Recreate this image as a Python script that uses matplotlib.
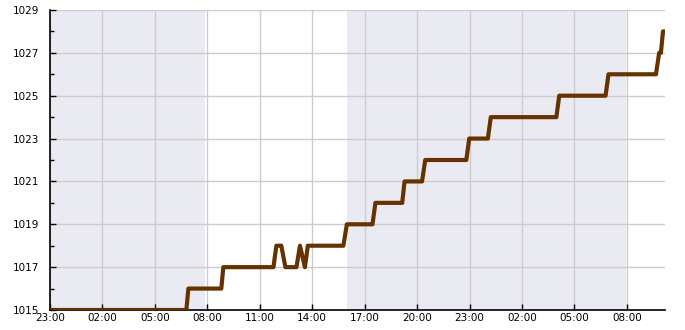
import pandas as pd
import matplotlib
matplotlib.use('Agg')
import matplotlib.pyplot as plt
import matplotlib.dates as mdates
from matplotlib.ticker import MultipleLocator

# pressure readings (hPa)
times = ['2024-01-14 23:00', '2024-01-15 06:48', '2024-01-15 06:55',
         '2024-01-15 08:48', '2024-01-15 08:55', '2024-01-15 11:47',
         '2024-01-15 11:57', '2024-01-15 12:14', '2024-01-15 12:28',
         '2024-01-15 13:06', '2024-01-15 13:18', '2024-01-15 13:35',
         '2024-01-15 13:45', '2024-01-15 15:47', '2024-01-15 15:59',
         '2024-01-15 17:27', '2024-01-15 17:37', '2024-01-15 19:09',
         '2024-01-15 19:17', '2024-01-15 20:17', '2024-01-15 20:28',
         '2024-01-15 22:49', '2024-01-15 22:59', '2024-01-16 00:03',
         '2024-01-16 00:13', '2024-01-16 03:58', '2024-01-16 04:08',
         '2024-01-16 06:47', '2024-01-16 06:57', '2024-01-16 09:40',
         '2024-01-16 09:51', '2024-01-16 09:57', '2024-01-16 10:04',
         '2024-01-16 10:11']
pressure = [1015, 1015, 1016,
            1016, 1017, 1017,
            1018, 1018, 1017,
            1017, 1018, 1017,
            1018, 1018, 1019,
            1019, 1020, 1020,
            1021, 1021, 1022,
            1022, 1023, 1023,
            1024, 1024, 1025,
            1025, 1026, 1026,
            1027, 1027, 1028,
            1028]

# night periods (shaded)
night_start = ['2024-01-14 23:00', '2024-01-15 16:00']
night_end = ['2024-01-15 07:53', '2024-01-16 07:56']

t = pd.to_datetime(times)

fig = plt.figure(figsize=(6.85, 3.3), dpi=100)
ax = fig.add_axes([50 / 685, 20 / 330, 615 / 685, 300 / 330])

for s, e in zip(night_start, night_end):
    ax.axvspan(pd.Timestamp(s), pd.Timestamp(e), color='#eaeaf2', lw=0, zorder=0)

ax.plot(t, pressure, color='#663300', lw=3.0, solid_joinstyle='round', zorder=3)

ax.set_xlim(t[0], t[-1])
ax.set_ylim(1015, 1029)

ax.yaxis.set_major_locator(MultipleLocator(2, offset=1))
ax.yaxis.set_minor_locator(MultipleLocator(1))
ax.xaxis.set_major_locator(mdates.HourLocator(byhour=[2, 5, 8, 11, 14, 17, 20, 23]))
ax.xaxis.set_major_formatter(mdates.DateFormatter('%H:%M'))

ax.set_axisbelow(True)
ax.grid(True, which='major', color='#cccccc', lw=1)
for side in ['top', 'right']:
    ax.spines[side].set_visible(False)
for side in ['left', 'bottom']:
    ax.spines[side].set_color('black')
    ax.spines[side].set_linewidth(1.2)

ax.tick_params(axis='both', which='major', direction='in', length=4, width=1,
               labelsize=7.5, pad=2)
ax.tick_params(axis='y', which='major', pad=8)
ax.tick_params(axis='y', which='minor', direction='in', length=3, width=1)

fig.savefig('out.png', dpi=100)
